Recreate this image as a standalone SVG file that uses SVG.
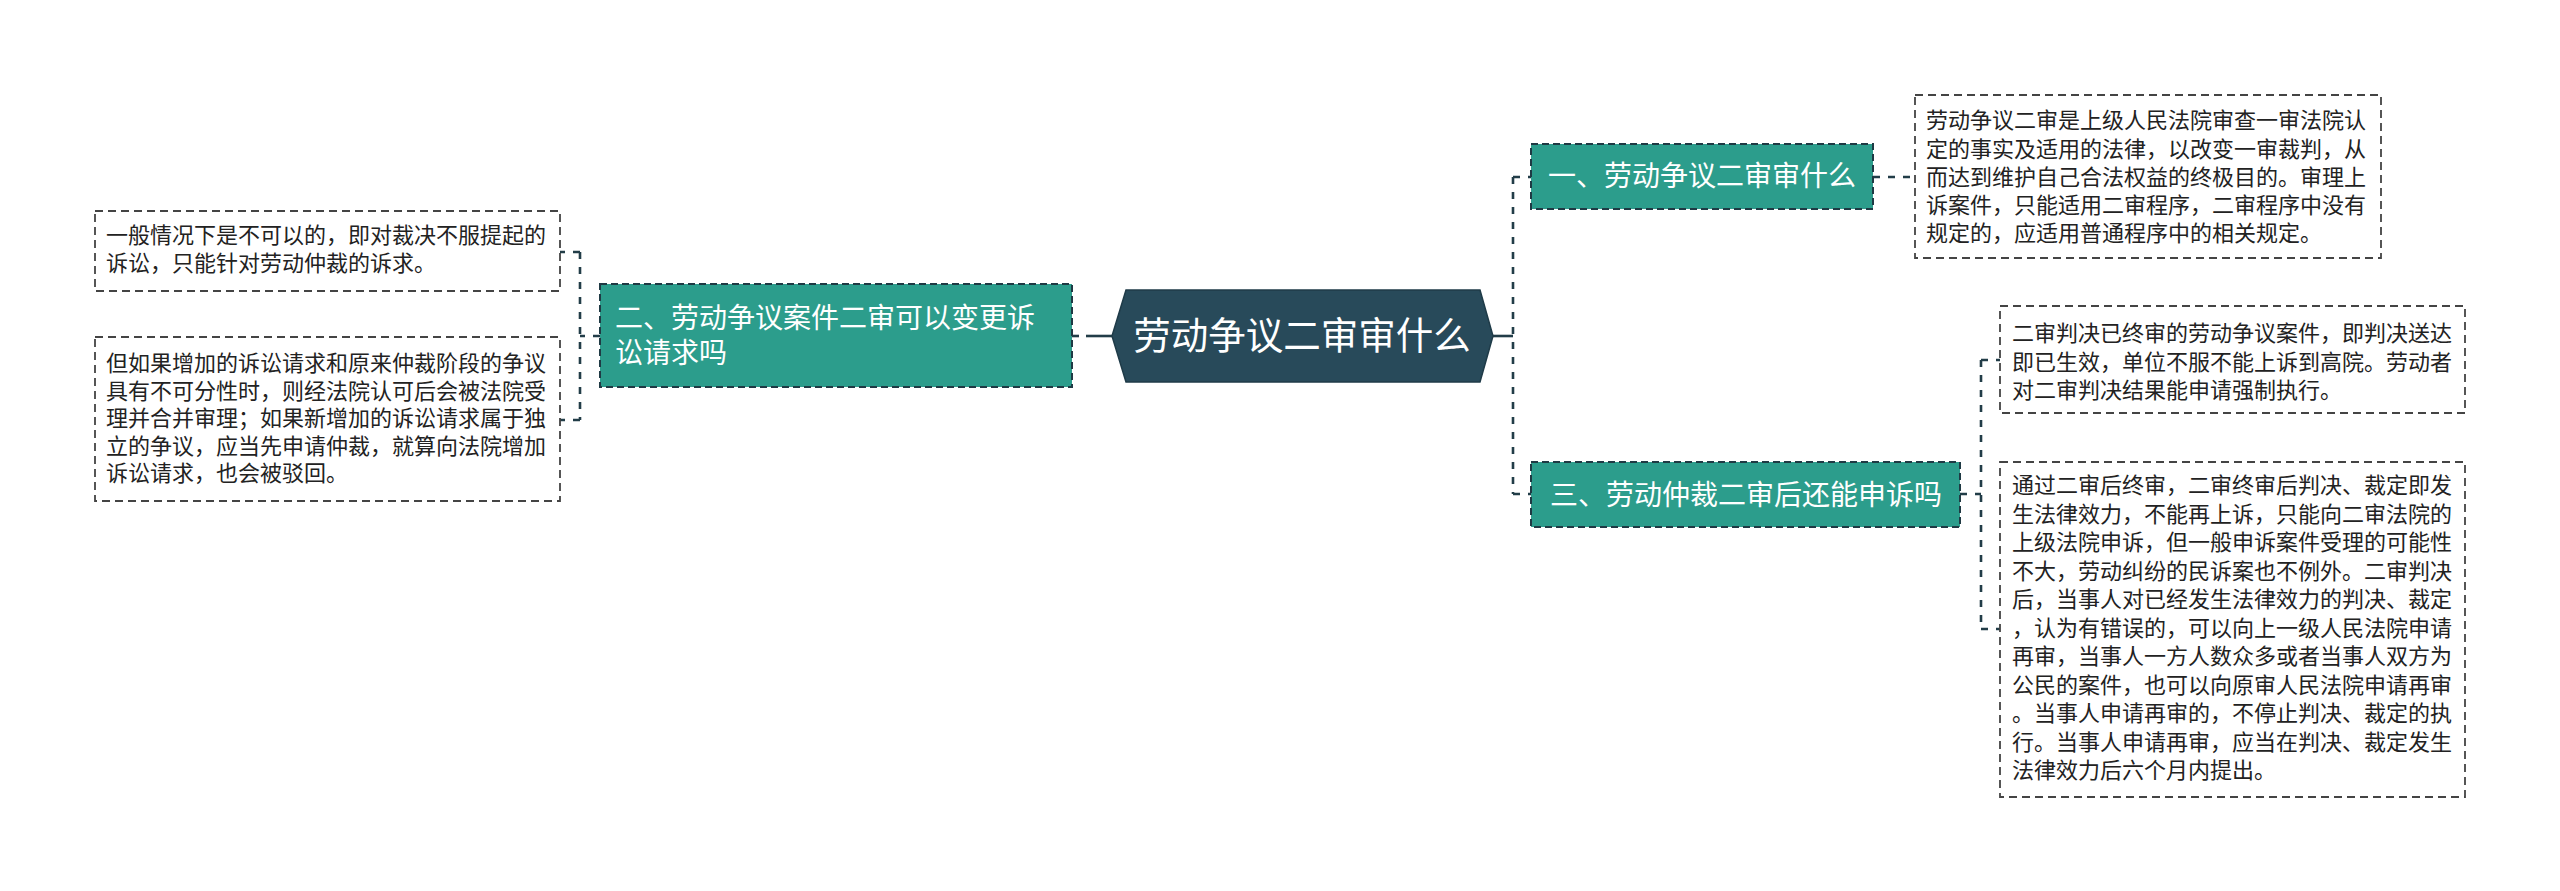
<svg xmlns="http://www.w3.org/2000/svg" width="2560" height="891" viewBox="0 0 2560 891">
<style>
  text { font-family: "Noto Sans CJK SC", "Liberation Sans", sans-serif; }
  .leaf rect { fill: #ffffff; stroke: #444444; stroke-width: 1.8; stroke-dasharray: 8 5; }
  .leaf text { font-size: 22px; fill: #222222; }
  .branch rect { fill: #2c9d8c; stroke: #1f3a44; stroke-width: 2; stroke-dasharray: 7 4; }
  .branch text { font-size: 28px; fill: #ffffff; }
  .root polygon { fill: #284a5a; stroke: #1f3b48; stroke-width: 1.5; }
  .root text { font-size: 37.5px; fill: #ffffff; text-anchor: middle; }
  .conn path { fill: none; stroke: #223d48; stroke-width: 2.6; }
  .conn .d { stroke-dasharray: 7 8; }
</style>
<rect width="2560" height="891" fill="#ffffff"/>
<g id="connectors" class="conn">
  <path d="M1086 336 H1112"/>
  <path class="d" d="M1072 336 H1086"/>
  <path class="d" d="M600 336 H580 M580 252 V420 M580 252 H560 M580 420 H560"/>
  <path d="M1493 336 H1513"/>
  <path class="d" d="M1513 177 V494 M1513 177 H1531 M1513 494 H1531"/>
  <path class="d" d="M1873 177 H1915"/>
  <path class="d" d="M1960 494 H1981 M1981 360 V629 M1981 360 H2000 M1981 629 H2000"/>
</g>
<g id="root" class="root">
  <polygon points="1126,290 1480,290 1493,336 1480,382 1126,382 1112,336"/>
  <text x="1302" y="349">劳动争议二审审什么</text>
</g>
<g id="branch2" class="branch">
  <rect x="600" y="284" width="472" height="103"/>
  <text x="615" y="328">二、劳动争议案件二审可以变更诉</text>
  <text x="615" y="363">讼请求吗</text>
</g>
<g id="leaf2a" class="leaf">
  <rect x="95" y="211" width="465" height="80"/>
  <text x="106" y="243">一般情况下是不可以的，即对裁决不服提起的</text>
  <text x="106" y="271">诉讼，只能针对劳动仲裁的诉求。</text>
</g>
<g id="leaf2b" class="leaf">
  <rect x="95" y="337" width="465" height="164"/>
  <text x="106" y="371">但如果增加的诉讼请求和原来仲裁阶段的争议</text>
  <text x="106" y="398.5">具有不可分性时，则经法院认可后会被法院受</text>
  <text x="106" y="426">理并合并审理；如果新增加的诉讼请求属于独</text>
  <text x="106" y="453.5">立的争议，应当先申请仲裁，就算向法院增加</text>
  <text x="106" y="481">诉讼请求，也会被驳回。</text>
</g>
<g id="branch1" class="branch">
  <rect x="1531" y="144" width="342" height="65"/>
  <text x="1702" y="186" text-anchor="middle">一、劳动争议二审审什么</text>
</g>
<g id="leaf1" class="leaf">
  <rect x="1915" y="95" width="466" height="163"/>
  <text x="1926" y="128">劳动争议二审是上级人民法院审查一审法院认</text>
  <text x="1926" y="156.5">定的事实及适用的法律，以改变一审裁判，从</text>
  <text x="1926" y="185">而达到维护自己合法权益的终极目的。审理上</text>
  <text x="1926" y="213">诉案件，只能适用二审程序，二审程序中没有</text>
  <text x="1926" y="241">规定的，应适用普通程序中的相关规定。</text>
</g>
<g id="branch3" class="branch">
  <rect x="1531" y="462" width="429" height="65"/>
  <text x="1746" y="505" text-anchor="middle">三、劳动仲裁二审后还能申诉吗</text>
</g>
<g id="leaf3a" class="leaf">
  <rect x="2000" y="306" width="465" height="107"/>
  <text x="2012" y="341">二审判决已终审的劳动争议案件，即判决送达</text>
  <text x="2012" y="370">即已生效，单位不服不能上诉到高院。劳动者</text>
  <text x="2012" y="398">对二审判决结果能申请强制执行。</text>
</g>
<g id="leaf3b" class="leaf">
  <rect x="2000" y="462" width="465" height="335"/>
  <text x="2012" y="493">通过二审后终审，二审终审后判决、裁定即发</text>
  <text x="2012" y="521.5">生法律效力，不能再上诉，只能向二审法院的</text>
  <text x="2012" y="550">上级法院申诉，但一般申诉案件受理的可能性</text>
  <text x="2012" y="578.5">不大，劳动纠纷的民诉案也不例外。二审判决</text>
  <text x="2012" y="607">后，当事人对已经发生法律效力的判决、裁定</text>
  <text x="2012" y="635.5">，认为有错误的，可以向上一级人民法院申请</text>
  <text x="2012" y="664">再审，当事人一方人数众多或者当事人双方为</text>
  <text x="2012" y="692.5">公民的案件，也可以向原审人民法院申请再审</text>
  <text x="2012" y="721">。当事人申请再审的，不停止判决、裁定的执</text>
  <text x="2012" y="749.5">行。当事人申请再审，应当在判决、裁定发生</text>
  <text x="2012" y="778">法律效力后六个月内提出。</text>
</g>
</svg>
